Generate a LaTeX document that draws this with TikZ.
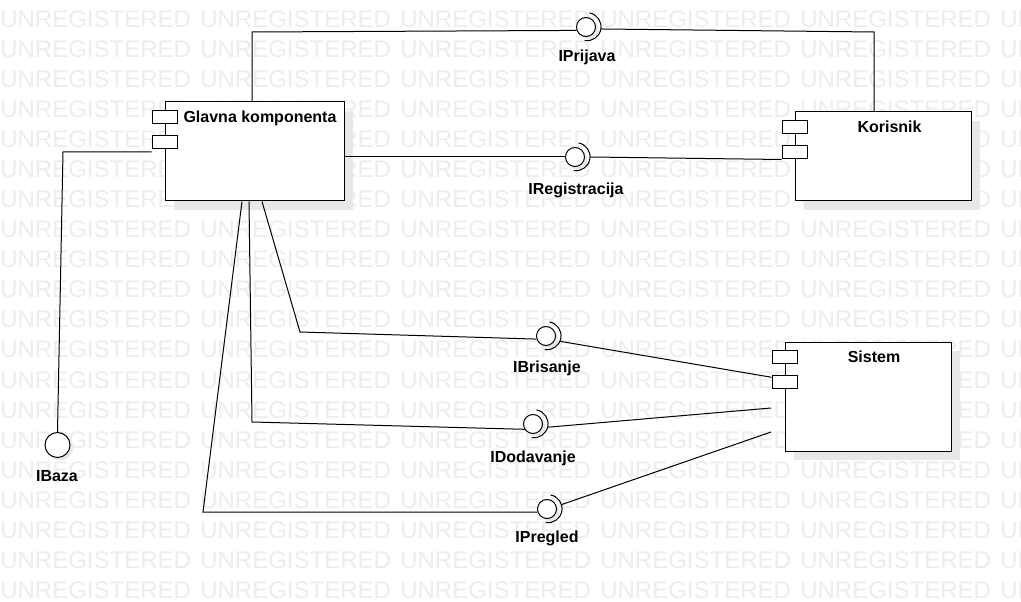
\documentclass[tikz,border=0pt]{standalone}
\usepackage{fontspec}
\setmainfont{Liberation Sans}
\usetikzlibrary{shadows}
\definecolor{wmgray}{RGB}{237,237,237}
\definecolor{shgray}{RGB}{232,232,232}
\begin{document}
\begin{tikzpicture}[x=0.75pt,y=-0.75pt,
  wm/.style={anchor=base west, text=wmgray, font=\fontsize{18}{18}\selectfont, inner sep=0},
  comp/.style={draw=black, fill=white, line width=0.75pt, inner sep=0, rectangle,
    drop shadow={shadow xshift=6.75pt, shadow yshift=-6.75pt, fill=shgray, opacity=1}},
  port/.style={draw=black, fill=white, line width=0.75pt, inner sep=0, minimum width=18.75pt, minimum height=9.75pt},
  title/.style={font=\bfseries\fontsize{12}{12}\selectfont, anchor=base, inner sep=0},
  ball/.style={circle, draw=black, fill=white, line width=0.75pt, inner sep=0, minimum size=14.25pt,
    drop shadow={shadow xshift=2.25pt, shadow yshift=-2.25pt, fill=shgray, opacity=1}},
  socket/.style={circle, inner sep=0, minimum size=21pt},
  conn/.style={draw=black, line width=0.75pt},
]
\useasboundingbox (0,0) rectangle (1021,602);
\fill[white] (0,0) rectangle (1021,602);
\begin{scope}
\clip (0,0) rectangle (1021,602);
\foreach \r in {0,...,19}
  \foreach \k in {0,...,5}
    \node[wm] at (200*\k, 28+30*\r) {UNREGISTERED};
\end{scope}

% components
\node[comp, minimum width=134.25pt, minimum height=74.25pt] (glavna) at (254.5,151.5) {};
\node[title] (glavnaT) at (260,123) {Glavna komponenta};
\node[port] (gport1) at (164.5,117.5) {};
\node[port] (gport2) at (164.5,142.5) {};

\node[comp, minimum width=132pt, minimum height=66.75pt] (korisnik) at (883,156.5) {};
\node[title] (korisnikT) at (889.5,133) {Korisnik};
\node[port] (kport1) at (794.5,127) {};
\node[port] (kport2) at (794.5,152.5) {};

\node[comp, minimum width=124.5pt, minimum height=81.75pt] (sistem) at (868,396.5) {};
\node[title] (sistemT) at (874,363) {Sistem};
\node[port] (sport1) at (784.5,357) {};
\node[port] (sport2) at (784.5,382) {};

% interfaces
\node[ball] (iprij) at (586,27) {};
\node[socket] (iprijS) at (587,27) {};
\draw[conn] (iprijS.80) arc[start angle=80, end angle=-100, radius=10.5pt];
\node[title] (iprijT) at (587,62) {IPrijava};

\node[ball] (ireg) at (575,157) {};
\node[socket] (iregS) at (576,157) {};
\draw[conn] (iregS.80) arc[start angle=80, end angle=-100, radius=10.5pt];
\node[title] (iregT) at (576,195) {IRegistracija};

\node[ball] (ibris) at (546,336) {};
\node[socket] (ibrisS) at (547,336) {};
\draw[conn] (ibrisS.80) arc[start angle=80, end angle=-100, radius=10.5pt];
\node[title] (ibrisT) at (547,372) {IBrisanje};

\node[ball] (idod) at (533,424) {};
\node[socket] (idodS) at (534,424) {};
\draw[conn] (idodS.80) arc[start angle=80, end angle=-100, radius=10.5pt];
\node[title] (idodT) at (533,462) {IDodavanje};

\node[ball] (ipreg) at (547,509) {};
\node[socket] (ipregS) at (548,509) {};
\draw[conn] (ipregS.80) arc[start angle=80, end angle=-100, radius=10.5pt];
\node[title] (ipregT) at (547,542) {IPregled};

\node[ball, minimum size=18.75pt] (ibaza) at (57.5,445) {};
\node[title] (ibazaT) at (57,481) {IBaza};

% helper coordinates
\coordinate (c1) at (252,32);
\coordinate (c2) at (874,32);
\coordinate (c3) at (63,152);
\coordinate (c4) at (300,332);
\coordinate (c5) at (252,422);
\coordinate (c6) at (203,512);
\coordinate (gb1) at (262,0);
\coordinate (gb2) at (249,0);
\coordinate (gb3) at (242,0);
\coordinate (s2) at (771,408);
\coordinate (s3) at (771,432);

% connectors
\draw[conn] (glavna.north -| c1) -- (c1) -- (iprij.200);
\draw[conn] (iprijS.-8) -- (c2) -- (korisnik.north -| c2);
\draw[conn] (glavna.east |- ireg.west) -- (ireg.west);
\draw[conn] (iregS.0) -- (kport2.south west);
\draw[conn] (gport2.west |- c3) -- (c3) -- (ibaza.north);
\draw[conn] (glavna.south -| gb1) -- (c4) -- (ibris.198);
\draw[conn] (ibrisS.-22) -- (sport2.160);
\draw[conn] (glavna.south -| gb2) -- (c5) -- (idod.212);
\draw[conn] (idodS.-13) -- (s2);
\draw[conn] (glavna.south -| gb3) -- (c6) -- (ipreg.198);
\draw[conn] (ipregS.18) -- (s3);
\end{tikzpicture}
\end{document}
